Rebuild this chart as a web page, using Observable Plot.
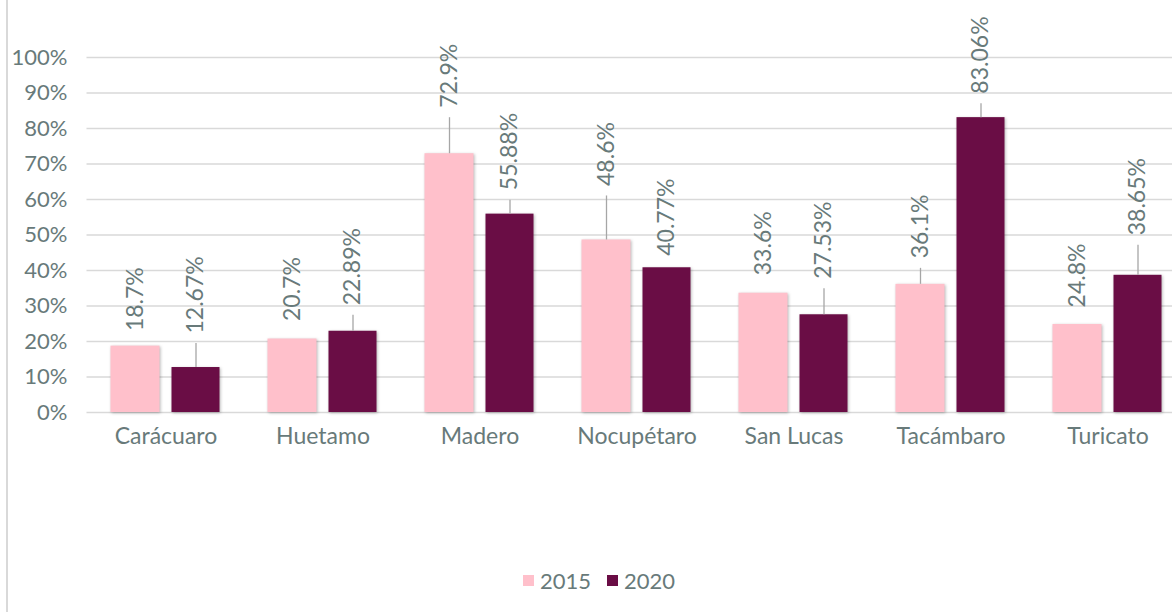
<!DOCTYPE html>
<html>
<head>
<meta charset="utf-8">
<script src="https://cdn.jsdelivr.net/npm/d3@7"></script>
<script src="https://cdn.jsdelivr.net/npm/@observablehq/plot@0.6"></script>
<style>
  html, body { margin: 0; padding: 0; background: #fff; }
  #wrap { position: relative; width: 1172px; height: 612px; overflow: hidden; font-family: Lato, sans-serif; }
  #edge { position: absolute; left: 6px; top: 0; width: 2px; height: 612px; background: #d9d9d9; }
  #chart { position: absolute; left: 0; top: 0; }
  #chart svg { overflow: hidden; }
  g[aria-label="bar"] rect { filter: drop-shadow(1.5px 1.5px 1.5px rgba(0,0,0,0.28)); }
  .legend { position: absolute; top: 567px; left: 523px; display: flex; align-items: center; font-family: Lato, sans-serif; font-size: 22px; color: #687a7a; }
  .legend .sw { width: 11px; height: 11px; display: inline-block; margin-right: 6px; }
  .legend .item { display: flex; align-items: center; margin-right: 16px; }
</style>
</head>
<body>
<div id="wrap">
  <div id="edge"></div>
  <div id="chart"></div>
  <div class="legend" id="legend"></div>
</div>
<script>
const categories = ["Carácuaro", "Huetamo", "Madero", "Nocupétaro", "San Lucas", "Tacámbaro", "Turicato"];
const series = ["2015", "2020"];
const values2015 = [18.7, 20.7, 72.9, 48.6, 33.6, 36.1, 24.8];
const values2020 = [12.67, 22.89, 55.88, 40.77, 27.53, 83.06, 38.65];
const yTicks = [0, 10, 20, 30, 40, 50, 60, 70, 80, 90, 100];
// label lift above bar top (px), as placed in the original
const labelGap2015 = [15, 18, 46, 54, 18, 26, 17];
const labelGap2020 = [34, 26, 24, 12, 36, 24, 40];

const colors = {"2015": "#ffc0cb", "2020": "#6a0d45"};
const textColor = "#687a7a";

const yTop = 57, yBottom = 412;
const pxPerUnit = (yBottom - yTop) / 100;

function rows(vals, gaps, s) {
  return categories.map((c, i) => {
    const v = vals[i], g = gaps[i];
    return {
      cat: c, series: s, value: v, label: v + "%",
      labelY: v + g / pxPerUnit,
      lineTop: v + (g - 10) / pxPerUnit,
      hasLine: g > 20
    };
  });
}
const d15 = rows(values2015, labelGap2015, "2015");
const d20 = rows(values2020, labelGap2020, "2020");

const plot = Plot.plot({
  width: 1172,
  height: 470,
  marginLeft: 86.5,
  marginRight: -13.5,
  marginTop: yTop,
  marginBottom: 470 - yBottom,
  style: {fontFamily: "Lato, sans-serif", fontSize: "22px", color: textColor, background: "transparent"},
  x: {domain: categories, padding: 0, label: null},
  y: {domain: [0, 100], label: null},
  marks: [
    Plot.ruleY(yTicks, {y: d => d, stroke: "#d9d9d9", strokeWidth: 1.6}),
    Plot.axisY(yTicks, {tickSize: 0, tickPadding: 19.5, tickFormat: d => d + "%", fill: textColor, fontSize: 22, label: null}),
    Plot.axisX({tickSize: 0, tickPadding: 15, fill: textColor, fontSize: 23, label: null}),
    Plot.barY(d15, {x: "cat", y: "value", fill: colors["2015"], insetLeft: 23.5, insetRight: 84.5}),
    Plot.barY(d20, {x: "cat", y: "value", fill: colors["2020"], insetLeft: 84.5, insetRight: 24.5}),
    Plot.ruleX(d15.filter(d => d.hasLine), {x: "cat", y1: "value", y2: "lineTop", dx: -30.5, stroke: "#a6a6a6", strokeWidth: 1.3}),
    Plot.ruleX(d20.filter(d => d.hasLine), {x: "cat", y1: "value", y2: "lineTop", dx: 30, stroke: "#a6a6a6", strokeWidth: 1.3}),
    Plot.text(d15, {x: "cat", y: "labelY", text: "label", rotate: -90, textAnchor: "start", lineAnchor: "middle", dx: -30.5, fill: textColor, fontSize: 23}),
    Plot.text(d20, {x: "cat", y: "labelY", text: "label", rotate: -90, textAnchor: "start", lineAnchor: "middle", dx: 30, fill: textColor, fontSize: 23})
  ]
});
document.getElementById("chart").appendChild(plot);

const legend = document.getElementById("legend");
series.forEach(s => {
  const item = document.createElement("div");
  item.className = "item";
  const sw = document.createElement("span");
  sw.className = "sw";
  sw.style.background = colors[s];
  const t = document.createElement("span");
  t.textContent = s;
  item.appendChild(sw);
  item.appendChild(t);
  legend.appendChild(item);
});
</script>
</body>
</html>
